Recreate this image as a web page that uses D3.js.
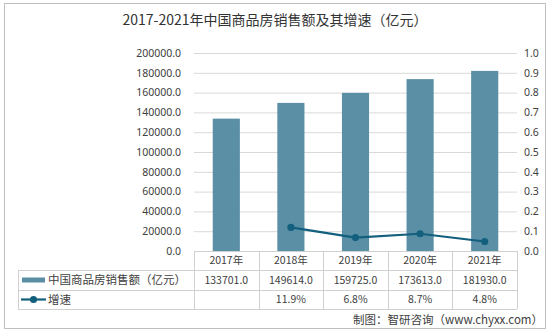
<!DOCTYPE html>
<html>
<head>
<meta charset="utf-8">
<script src="https://cdn.jsdelivr.net/npm/d3@7/dist/d3.min.js"></script>
<style>
  html, body { margin: 0; padding: 0; background: #fff; }
  svg { display: block; font-family: "Noto Sans CJK SC", "Noto Sans", sans-serif; }
</style>
</head>
<body>
<svg id="chart" width="550" height="334"></svg>
<script>
// Yearly sales of commercial housing in China (100 million yuan) and growth rate (%)
const years = ['2017年', '2018年', '2019年', '2020年', '2021年'];
const sales = [133701.0, 149614.0, 159725.0, 173613.0, 181930.0];
const growth = [null, 11.9, 6.8, 8.7, 4.8];
const salesLabels = ['133701.0', '149614.0', '159725.0', '173613.0', '181930.0'];
const growthLabels = ['', '11.9%', '6.8%', '8.7%', '4.8%'];
const leftTicks = [0, 20000, 40000, 60000, 80000, 100000, 120000, 140000, 160000, 180000, 200000];
const rightTicks = [0, 0.1, 0.2, 0.3, 0.4, 0.5, 0.6, 0.7, 0.8, 0.9, 1.0];
const seriesNames = ['中国商品房销售额（亿元）', '增速'];

const barColor = '#5b8fa6';
const lineColor = '#135f7e';
const textColor = '#404040';
const gridColor = '#d9d9d9';

const svg = d3.select('#chart');

// outer frame
svg.append('rect')
  .attr('x', 4.5).attr('y', 3.5).attr('width', 541).attr('height', 325)
  .attr('fill', '#fff').attr('stroke', '#bfbfbf');

// title
svg.append('text')
  .attr('x', 275).attr('y', 25)
  .attr('text-anchor', 'middle')
  .attr('font-size', 14).attr('fill', '#333')
  .text('2017-2021年中国商品房销售额及其增速（亿元）');

const plot = { left: 194, right: 517, top: 53, bottom: 251 };

const x = d3.scaleBand().domain(years).range([plot.left, plot.right]).paddingInner(0.58).paddingOuter(0.29);
const xBand = d3.scaleBand().domain(years).range([plot.left, plot.right]);
const yL = d3.scaleLinear().domain([0, 200000]).range([plot.bottom, plot.top]);
const yR = d3.scaleLinear().domain([0, 1]).range([plot.bottom, plot.top]);

// gridlines
svg.append('g')
  .attr('transform', `translate(${plot.left},0)`)
  .call(d3.axisLeft(yL).tickValues(leftTicks.slice(1)).tickSize(-(plot.right - plot.left)).tickFormat(''))
  .call(g => g.select('.domain').remove())
  .call(g => g.selectAll('line').attr('stroke', gridColor));

// left axis labels
svg.append('g')
  .attr('transform', `translate(${plot.left - 13},0)`)
  .call(d3.axisLeft(yL).tickValues(leftTicks).tickSize(0).tickPadding(0).tickFormat(d3.format('.1f')))
  .call(g => g.select('.domain').remove())
  .call(g => g.selectAll('text').attr('fill', textColor).attr('font-size', 10.5).attr('font-family', '"Noto Sans", sans-serif'));

// right axis labels
svg.append('g')
  .attr('transform', `translate(${plot.right + 7},0)`)
  .call(d3.axisRight(yR).tickValues(rightTicks).tickSize(0).tickPadding(0).tickFormat(d3.format('.1f')))
  .call(g => g.select('.domain').remove())
  .call(g => g.selectAll('text').attr('fill', textColor).attr('font-size', 10.5).attr('font-family', '"Noto Sans", sans-serif'));

// bars
svg.append('g').selectAll('rect')
  .data(sales)
  .join('rect')
  .attr('x', (d, i) => x(years[i]))
  .attr('y', d => yL(d))
  .attr('width', x.bandwidth())
  .attr('height', d => yL(0) - yL(d))
  .attr('fill', barColor);

// growth line
const pts = growth.map((g, i) => ({ i, g })).filter(d => d.g !== null);
const cx = d => xBand(years[d.i]) + xBand.bandwidth() / 2;
svg.append('path')
  .datum(pts)
  .attr('fill', 'none')
  .attr('stroke', lineColor)
  .attr('stroke-width', 2.2)
  .attr('d', d3.line().x(cx).y(d => yR(d.g / 100)));
svg.append('g').selectAll('circle')
  .data(pts)
  .join('circle')
  .attr('cx', cx)
  .attr('cy', d => yR(d.g / 100))
  .attr('r', 3.6)
  .attr('fill', lineColor);

// data table
const rowY = [251, 270, 290, 309];
const tableLeft = 18;
const tbl = svg.append('g').attr('stroke', '#d0d0d0').attr('stroke-width', 1);
tbl.append('line').attr('x1', plot.left).attr('x2', plot.right).attr('y1', rowY[0] + 0.5).attr('y2', rowY[0] + 0.5);
[rowY[1], rowY[2], rowY[3]].forEach(yv => {
  tbl.append('line').attr('x1', tableLeft).attr('x2', plot.right).attr('y1', yv + 0.5).attr('y2', yv + 0.5);
});
const vx = years.map(c => xBand(c)).concat([plot.right]);
vx.forEach(v => {
  tbl.append('line').attr('x1', Math.round(v) + 0.5).attr('x2', Math.round(v) + 0.5).attr('y1', rowY[0]).attr('y2', rowY[3]);
});
tbl.append('line').attr('x1', tableLeft + 0.5).attr('x2', tableLeft + 0.5).attr('y1', rowY[1]).attr('y2', rowY[3]);

const cellText = (labels, yMid) => {
  svg.append('g').selectAll('text')
    .data(labels)
    .join('text')
    .attr('x', (d, i) => xBand(years[i]) + xBand.bandwidth() / 2)
    .attr('y', yMid)
    .attr('dy', '0.35em')
    .attr('text-anchor', 'middle')
    .attr('font-size', 10.5)
    .attr('fill', textColor)
    .text(d => d);
};
cellText(years, (rowY[0] + rowY[1]) / 2);
cellText(salesLabels, (rowY[1] + rowY[2]) / 2);
cellText(growthLabels, (rowY[2] + rowY[3]) / 2);

// legend keys inside the table
const r1 = (rowY[1] + rowY[2]) / 2;
const r2 = (rowY[2] + rowY[3]) / 2;
svg.append('rect').attr('x', 22).attr('y', r1 - 2.5).attr('width', 23).attr('height', 5).attr('fill', barColor);
svg.append('text').attr('x', 48).attr('y', r1).attr('dy', '0.36em')
  .attr('font-size', 11.5).attr('fill', textColor).text(seriesNames[0]);
svg.append('line').attr('x1', 21).attr('x2', 46).attr('y1', r2).attr('y2', r2)
  .attr('stroke', lineColor).attr('stroke-width', 2.2);
svg.append('circle').attr('cx', 33.5).attr('cy', r2).attr('r', 3.6).attr('fill', lineColor);
svg.append('text').attr('x', 48).attr('y', r2).attr('dy', '0.36em')
  .attr('font-size', 11.5).attr('fill', textColor).text(seriesNames[1]);

// source note
svg.append('text')
  .attr('x', 543).attr('y', 320)
  .attr('dy', '0.35em')
  .attr('text-anchor', 'end')
  .attr('font-size', 11.5).attr('fill', textColor)
  .text('制图：智研咨询（www.chyxx.com）');
</script>
</body>
</html>
